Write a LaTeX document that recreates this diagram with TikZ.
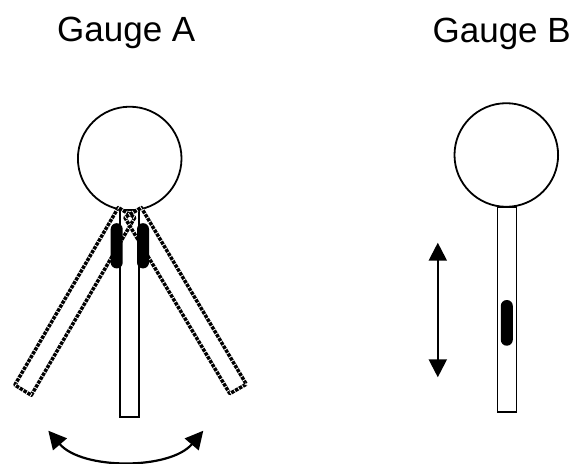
\documentclass[tikz,border=0pt]{standalone}
\usepackage{fontspec}
\setmainfont{Liberation Sans}
\usetikzlibrary{arrows.meta}

\tikzset{
  outline/.style={draw=black, line width=1.8pt},
  % beaded rod outline: a heavy line cut by short white notches
  rodline/.style={draw=black, line width=3.5pt, line join=round,
    postaction={draw=white, line width=3.9pt, dash pattern=on 0.8pt off 3.7pt}},
  blob/.style={fill=black, rounded corners=5.9pt},
  motion/.style={draw=black, line width=2.2pt,
                 {Triangle[length=18pt,width=18pt]}-{Triangle[length=18pt,width=18pt]}},
  title/.style={font=\fontsize{35}{38}\selectfont, anchor=base, inner sep=0pt}
}

\begin{document}
\begin{tikzpicture}[x=1pt, y=-1pt]
  \useasboundingbox (0,0) rectangle (577,463);
  \fill[white] (0,0) rectangle (577,463);

  % titles
  \node[title] (titleA) at (126.3,41.7) {Gauge A};
  \node[title] (titleB) at (501.7,42.2) {Gauge B};

  % ---------------- gauge A ----------------
  \coordinate (dialA) at (129.7,158.5);
  \draw[outline] (dialA) circle[radius=51.8pt];
  % fixed stem
  \draw[outline] (120.1,210.3) rectangle (139.3,416.6);

  % swung rod, left position
  \coordinate (lo1) at (118.3,207.6);
  \coordinate (li1) at (134.8,217.5);
  \coordinate (li2) at (31.3,395.2);
  \coordinate (lo2) at (14.8,385.0);
  \path[rodline] (lo1) -- (li1) -- (li2) -- (lo2) -- cycle;

  % swung rod, right position
  \coordinate (ro1) at (141.3,207.6);
  \coordinate (ri1) at (124.8,217.5);
  \coordinate (ri2) at (229.8,393.6);
  \coordinate (ro2) at (246.3,384.2);
  \path[rodline] (ro1) -- (ri1) -- (ri2) -- (ro2) -- cycle;

  % indicator pellets
  \fill[blob] (110.7,223.2) rectangle (122.7,268.4);
  \fill[blob] (137.0,223.2) rectangle (149.0,268.4);

  % swing direction
  \coordinate (swL) at (48.3,430.7);
  \coordinate (swR) at (203.3,430.7);
  \draw[motion] (swL) .. controls (82,470) and (170,470) .. (swR);

  % ---------------- gauge B ----------------
  \coordinate (dialB) at (506.3,155.0);
  \draw[outline] (dialB) circle[radius=51.8pt];
  \draw[outline] (497.4,206.8) rectangle (516.5,411.8);
  \fill[blob] (500.8,300.0) rectangle (512.8,345.7);

  % travel direction
  \coordinate (trT) at (437.8,242.7);
  \coordinate (trB) at (437.8,377.3);
  \draw[motion] (trT) -- (trB);
\end{tikzpicture}
\end{document}
